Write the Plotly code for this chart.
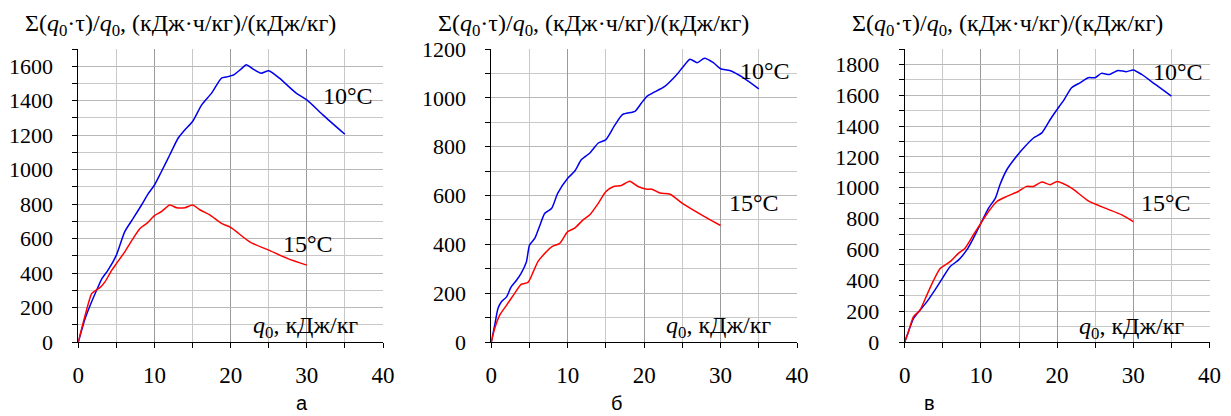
import plotly.graph_objects as go

# ---- data ----
a_x10 = [0, 0.9, 1.75, 2.4, 3.1, 3.9, 5, 6.1, 7.2, 8.3, 9.2, 10, 10.9, 12, 13.1, 14, 15, 16.2, 17.5, 18.8, 19.4, 20.4, 21.4, 22.05, 22.9, 24, 25, 26.4, 28.6, 30, 32.1, 35]
a_y10 = [0, 136, 233, 300, 368, 417, 504, 640, 717, 795, 862, 911, 988, 1085, 1182, 1231, 1279, 1376, 1444, 1531, 1537, 1550, 1585, 1608, 1585, 1560, 1574, 1531, 1444, 1405, 1318, 1205]
a_x15 = [0, 0.9, 1.75, 2.3, 2.8, 3.5, 4.4, 5, 6.1, 7.2, 8.1, 9, 10, 10.9, 12, 12.9, 14, 15, 16, 17.3, 18.8, 20, 22.5, 25, 27.5, 30]
a_y15 = [0, 155, 281, 300, 314, 349, 417, 455, 523, 601, 659, 688, 733, 756, 795, 779, 779, 795, 766, 736, 688, 665, 581, 533, 484, 446]

b_x10 = [0, 0.44, 0.87, 1.3, 2.0, 2.6, 3.3, 3.9, 4.6, 5.0, 5.7, 6.3, 7.0, 7.9, 8.7, 10, 10.9, 11.8, 12.9, 14, 15, 16.2, 17.2, 18.8, 19.65, 20.4, 21.2, 22.75, 24.1, 25, 26, 26.95, 27.9, 29.05, 30, 31.2, 33, 35]
b_y10 = [0, 68, 137, 164, 185, 226, 253, 281, 329, 397, 425, 473, 527, 548, 610, 671, 699, 747, 774, 815, 829, 890, 932, 945, 979, 1007, 1021, 1048, 1089, 1123, 1158, 1144, 1162, 1144, 1119, 1112, 1082, 1037]
b_x15 = [0, 0.44, 1.1, 2.0, 3.05, 3.9, 4.8, 5.5, 6.1, 7.0, 7.9, 8.95, 10, 10.9, 12, 12.9, 14, 15, 16, 17, 18.1, 19.2, 20.4, 21, 22.1, 23.4, 25, 27.5, 30]
b_y15 = [0, 55, 110, 151, 199, 236, 244, 288, 329, 363, 390, 404, 452, 466, 500, 521, 568, 616, 637, 641, 658, 637, 626, 626, 610, 605, 568, 521, 477]

c_x10 = [0, 0.48, 1.14, 2.0, 2.9, 3.8, 4.65, 5.95, 7.05, 8.15, 9.0, 10, 11.0, 11.9, 12.5, 13.4, 14.5, 15.6, 16.9, 18.0, 19.1, 20.3, 20.8, 21.9, 23.0, 24.1, 25, 25.8, 26.9, 28.0, 29.1, 30, 31.1, 32.9, 35]
c_y10 = [0, 65, 152, 206, 260, 325, 390, 488, 531, 597, 672, 770, 868, 933, 1020, 1117, 1193, 1258, 1323, 1356, 1443, 1529, 1562, 1649, 1681, 1714, 1714, 1742, 1735, 1761, 1753, 1764, 1735, 1670, 1594]
c_x15 = [0, 0.48, 1.14, 2.0, 2.9, 3.8, 4.65, 5.95, 7.05, 7.9, 9.0, 10, 11.0, 12.1, 13.4, 14.9, 16.0, 16.9, 18.0, 19.1, 20, 21.9, 24.1, 26.3, 28.5, 30]
c_y15 = [0, 65, 163, 206, 304, 401, 477, 521, 575, 607, 694, 770, 846, 911, 944, 976, 1009, 1009, 1037, 1020, 1041, 998, 915, 868, 824, 781]

y_tops = [1700, 1200, 1900]
x_max = 40
series_labels = ["10°C", "15°C"]
panel_letters = ["а", "б", "в"]
y_title = "Σ(<i>q</i><sub>0</sub>·τ)/<i>q</i><sub>0</sub>, (кДж·ч/кг)/(кДж/кг)"
x_title = "<i>q</i><sub>0</sub>, кДж/кг"

panels = [
    (a_x10, a_y10, a_x15, a_y15),
    (b_x10, b_y10, b_x15, b_y15),
    (c_x10, c_y10, c_x15, c_y15),
]

# ---- layout geometry (screen pixels; page body has an 8px margin) ----
OFF = 8
W, H = 1231 - OFF, 416 - OFF
x_left_px = [78.3, 491.3, 904.7]
x_right_px = [383.0, 797.0, 1209.5]
y_bottom_px, y_top_px = 342.0, 49.0

def px(x):
    return (x - OFF) / W

def py(y):
    return 1 - (y - OFF) / H

SERIF = "Liberation Serif"
SANS = "Liberation Sans"

fig = go.Figure()
annotations = []
layout = {}

title_cx = [180, 593, 1007]
lab10 = [(348, 96), (765, 71), (1178, 72)]
lab15 = [(308, 244), (754, 203), (1166, 203)]
labq = [(305, 327), (718, 327), (1131, 328)]
letter_pos = [(302, 403), (616, 403), (929, 403)]

for i, (x10, y10, x15, y15) in enumerate(panels):
    n = "" if i == 0 else str(i + 1)
    xa, ya = "x" + n, "y" + n
    fig.add_trace(go.Scatter(x=x10, y=y10, mode="lines", xaxis=xa, yaxis=ya,
                             line=dict(color="#0000ee", width=1.5, shape="spline", smoothing=0.6),
                             showlegend=False, hoverinfo="skip"))
    fig.add_trace(go.Scatter(x=x15, y=y15, mode="lines", xaxis=xa, yaxis=ya,
                             line=dict(color="#ff0000", width=1.5, shape="spline", smoothing=0.6),
                             showlegend=False, hoverinfo="skip"))
    layout["xaxis" + n] = dict(
        domain=[px(x_left_px[i]), px(x_right_px[i])], anchor=ya,
        range=[0, x_max], dtick=10, tick0=0,
        showline=True, linecolor="black", linewidth=1,
        ticks="outside", ticklen=5, tickcolor="black",
        showgrid=True, gridcolor="#9a9a9a", gridwidth=1,
        minor=dict(dtick=5, ticks="outside", ticklen=5, tickcolor="black",
                   showgrid=True, gridcolor="#c8c8c8", gridwidth=1),
        zeroline=False, ticklabelstandoff=7, automargin=False,
        tickfont=dict(family=SERIF, size=23, color="black"),
    )
    layout["yaxis" + n] = dict(
        domain=[py(y_bottom_px), py(y_top_px)], anchor=xa,
        range=[0, y_tops[i]], dtick=200, tick0=0,
        showline=True, linecolor="black", linewidth=1,
        ticks="outside", ticklen=5, tickcolor="black",
        showgrid=True, gridcolor="#b8b8b8", gridwidth=1,
        minor=dict(dtick=100, ticks="outside", ticklen=5, tickcolor="black",
                   showgrid=True, gridcolor="#c8c8c8", gridwidth=1),
        zeroline=False, ticklabelstandoff=15, automargin=False,
        tickfont=dict(family=SERIF, size=22, color="black"),
    )
    annotations.append(dict(text=y_title, x=px(title_cx[i]), y=py(25), xref="paper", yref="paper",
                            xanchor="center", yanchor="middle", showarrow=False,
                            font=dict(family=SERIF, size=24, color="black")))
    annotations.append(dict(text=series_labels[0], x=px(lab10[i][0]), y=py(lab10[i][1]), xref="paper", yref="paper",
                            xanchor="center", yanchor="middle", showarrow=False,
                            font=dict(family=SERIF, size=24, color="black")))
    annotations.append(dict(text=series_labels[1], x=px(lab15[i][0]), y=py(lab15[i][1]), xref="paper", yref="paper",
                            xanchor="center", yanchor="middle", showarrow=False,
                            font=dict(family=SERIF, size=24, color="black")))
    annotations.append(dict(text=x_title, x=px(labq[i][0]), y=py(labq[i][1]), xref="paper", yref="paper",
                            xanchor="center", yanchor="middle", showarrow=False,
                            font=dict(family=SERIF, size=24, color="black")))
    annotations.append(dict(text=panel_letters[i], x=px(letter_pos[i][0]), y=py(letter_pos[i][1]), xref="paper", yref="paper",
                            xanchor="center", yanchor="middle", showarrow=False,
                            font=dict(family=SANS, size=20, color="black")))

fig.update_layout(
    width=W, height=H, margin=dict(l=0, r=0, t=0, b=0, autoexpand=False),
    paper_bgcolor="white", plot_bgcolor="white",
    font=dict(family=SERIF, size=23, color="black"),
    annotations=annotations, **layout,
)

fig.write_html("out.html")
